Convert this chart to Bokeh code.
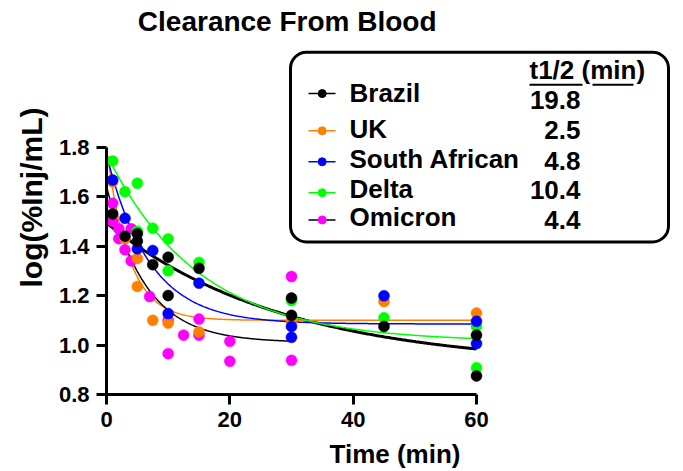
import numpy as np
from bokeh.plotting import figure
from bokeh.models import Range1d, FixedTicker, BoxAnnotation, NumeralTickFormatter
from bokeh.core.properties import value
from bokeh.embed import file_html
from bokeh.resources import INLINE

FONT = "Liberation Sans"

# ---------------- data ----------------
series_names = ["Brazil", "UK", "South African", "Delta", "Omicron"]
half_life_labels = ["19.8", "2.5", "4.8", "10.4", "4.4"]
point_colors = ["#000000", "#FF8000", "#0000FF", "#00FF00", "#FF00FF"]
fit_line_colors = ["#000000", "#FF8000", "#0000FF", "#00FF00", "#000000"]
fit_line_widths = [3, 1.5, 1.5, 1.5, 1.5]

brazil_t = [1, 3, 5, 5, 7.5, 10, 10, 15, 30, 30, 45, 60, 60]
brazil_v = [1.53, 1.44, 1.45, 1.42, 1.325, 1.355, 1.20, 1.31, 1.19, 1.12, 1.075, 1.04, 0.875]

uk_t = [1, 3, 5, 5, 7.5, 10, 15, 30, 45, 60]
uk_v = [1.66, 1.43, 1.35, 1.237, 1.10, 1.089, 1.053, 1.098, 1.176, 1.129]

sa_t = [1, 3, 5, 7.5, 10, 15, 30, 30, 45, 60, 60]
sa_v = [1.667, 1.512, 1.389, 1.382, 1.127, 1.25, 1.075, 1.031, 1.199, 1.096, 1.006]

delta_t = [1, 3, 5, 5, 7.5, 10, 10, 15, 30, 45, 60, 60]
delta_v = [1.744, 1.62, 1.654, 1.46, 1.472, 1.429, 1.30, 1.334, 1.18, 1.11, 1.075, 0.908]

omicron_t = [1, 1, 2, 2, 3, 4, 4, 7, 10, 10, 12.5, 15, 15, 20, 20, 30, 30]
omicron_v = [1.573, 1.50, 1.47, 1.43, 1.385, 1.47, 1.34, 1.196, 1.10, 0.965, 1.04,
             1.105, 1.04, 1.015, 0.934, 1.277, 0.938]

series_t = [brazil_t, uk_t, sa_t, delta_t, omicron_t]
series_v = [brazil_v, uk_v, sa_v, delta_v, omicron_v]

# one-phase decay fit parameters
fit_y0 = [1.494, 1.80, 1.77, 1.772, 1.642]
fit_plateau = [0.913, 1.10, 1.085, 1.012, 1.01]
fit_half_life = [19.8, 2.5, 4.8, 10.4, 4.4]
fit_end = [60, 60, 60, 60, 30]

x_ticks = [0, 20, 40, 60]
y_ticks = [0.8, 1.0, 1.2, 1.4, 1.6, 1.8]

# ---------------- layout helpers ----------------
W, H = 683, 471
FRAME_LEFT, FRAME_BOTTOM = 106, 395
X0_PX, X60_PX = 106, 476
Y08_PX, Y18_PX = 395, 147
PX_PER_MIN = (X60_PX - X0_PX) / 60.0
PX_PER_UNIT = (Y08_PX - Y18_PX) / 1.0
BASE_FIX = 0.42  # em correction for rendered baseline


def sx(px):
    return (px - X0_PX) / PX_PER_MIN


def sy(py):
    return 0.8 + (Y08_PX - py) / PX_PER_UNIT


def sy_text(py, fs):
    return sy(py - BASE_FIX * fs)


p = figure(width=W, height=H, output_backend="svg", toolbar_location=None,
           x_range=Range1d(0, sx(W)), y_range=Range1d(0.8, sy(0)),
           min_border_left=FRAME_LEFT, min_border_bottom=H - FRAME_BOTTOM,
           min_border_top=0, min_border_right=0, title=None)
p.outline_line_color = None
p.grid.visible = False
p.background_fill_color = "white"
p.border_fill_color = "white"

# axes
for ax in (p.xaxis[0], p.yaxis[0]):
    ax.axis_line_width = 3
    ax.axis_line_color = "black"
    ax.major_tick_line_width = 3
    ax.major_tick_line_color = "black"
    ax.major_tick_out = 10
    ax.major_tick_in = 0
    ax.minor_tick_out = 0
    ax.minor_tick_in = 0
    ax.major_label_text_font = FONT
    ax.major_label_text_font_style = "bold"
    ax.major_label_text_font_size = "22px"
    ax.major_label_text_color = "black"
    ax.axis_label_text_font = FONT
    ax.axis_label_text_font_style = "bold"
    ax.axis_label_text_color = "black"

p.xaxis[0].bounds = (x_ticks[0], x_ticks[-1])
p.xaxis[0].ticker = FixedTicker(ticks=x_ticks)
p.xaxis[0].axis_label = "Time (min)"
p.xaxis[0].axis_label_text_font_size = "26px"
p.xaxis[0].major_label_standoff = 7
p.xaxis[0].axis_label_standoff = 9

p.yaxis[0].bounds = (y_ticks[0], y_ticks[-1])
p.yaxis[0].ticker = FixedTicker(ticks=y_ticks)
p.yaxis[0].formatter = NumeralTickFormatter(format="0.0")
p.yaxis[0].axis_label = "log(%Inj/mL)"
p.yaxis[0].axis_label_text_font_size = "30px"
p.yaxis[0].major_label_standoff = 7
p.yaxis[0].axis_label_standoff = 8

# fitted curves
for y0, plat, hl, tend, col, lw in zip(fit_y0, fit_plateau, fit_half_life, fit_end,
                                      fit_line_colors, fit_line_widths):
    tt = np.linspace(0, tend, 300)
    k = np.log(2) / hl
    yy = plat + (y0 - plat) * np.exp(-k * tt)
    p.line(tt, yy, line_color=col, line_width=lw)

# points (drawing order bottom -> top)
draw_order = [4, 1, 3, 2, 0]
for i in draw_order:
    p.scatter(series_t[i], series_v[i], size=11, fill_color=point_colors[i],
              line_color=point_colors[i], line_width=0.5)

# title
TITLE_FS = 28
p.text(x=[sx(286.7)], y=[sy_text(33.3, TITLE_FS)], text=["Clearance From Blood"],
       text_font=value(FONT), text_font_style="bold", text_font_size=f"{TITLE_FS}px",
       text_align="center", text_baseline="alphabetic", text_color="black")

# legend box
p.add_layout(BoxAnnotation(left=sx(290), right=sx(668), top=sy(52), bottom=sy(242),
                           fill_color=None, fill_alpha=0, line_color="black",
                           line_width=3, line_alpha=1, border_radius=16))

LEG_FS = 26
legend_line_py = [93.3, 130.7, 161.7, 192.7, 220.0]
legend_label_base_py = [103.3, 139.3, 170.0, 200.0, 228.3]
legend_value_base_py = [110.7, 141.0, 171.7, 200.7, 230.7]

p.segment(x0=[sx(308)] * 5, x1=[sx(335)] * 5, y0=[sy(v) for v in legend_line_py],
          y1=[sy(v) for v in legend_line_py], line_color=fit_line_colors, line_width=1.5)
p.scatter([sx(321.7)] * 5, [sy(v) for v in legend_line_py], size=8,
          fill_color=point_colors, line_color=point_colors)
p.text(x=[sx(349)] * 5, y=[sy_text(v, LEG_FS) for v in legend_label_base_py], text=series_names,
       text_font=value(FONT), text_font_style="bold", text_font_size=f"{LEG_FS}px",
       text_align="left", text_baseline="alphabetic", text_color="black")
p.text(x=[sx(580)] * 5, y=[sy_text(v, LEG_FS) for v in legend_value_base_py], text=half_life_labels,
       text_font=value(FONT), text_font_style="bold", text_font_size=f"{LEG_FS}px",
       text_align="right", text_baseline="alphabetic", text_color="black")

# header with underline
p.text(x=[sx(529)], y=[sy_text(81, LEG_FS)], text=["t1/2 (min)"],
       text_font=value(FONT), text_font_style="bold", text_font_size=f"{LEG_FS}px",
       text_align="left", text_baseline="alphabetic", text_color="black")
p.segment(x0=[sx(529), sx(592)], x1=[sx(582), sx(633)], y0=[sy(84.5)] * 2,
          y1=[sy(84.5)] * 2, line_color="black", line_width=2)

open("out.html", "w").write(file_html(p, INLINE))
